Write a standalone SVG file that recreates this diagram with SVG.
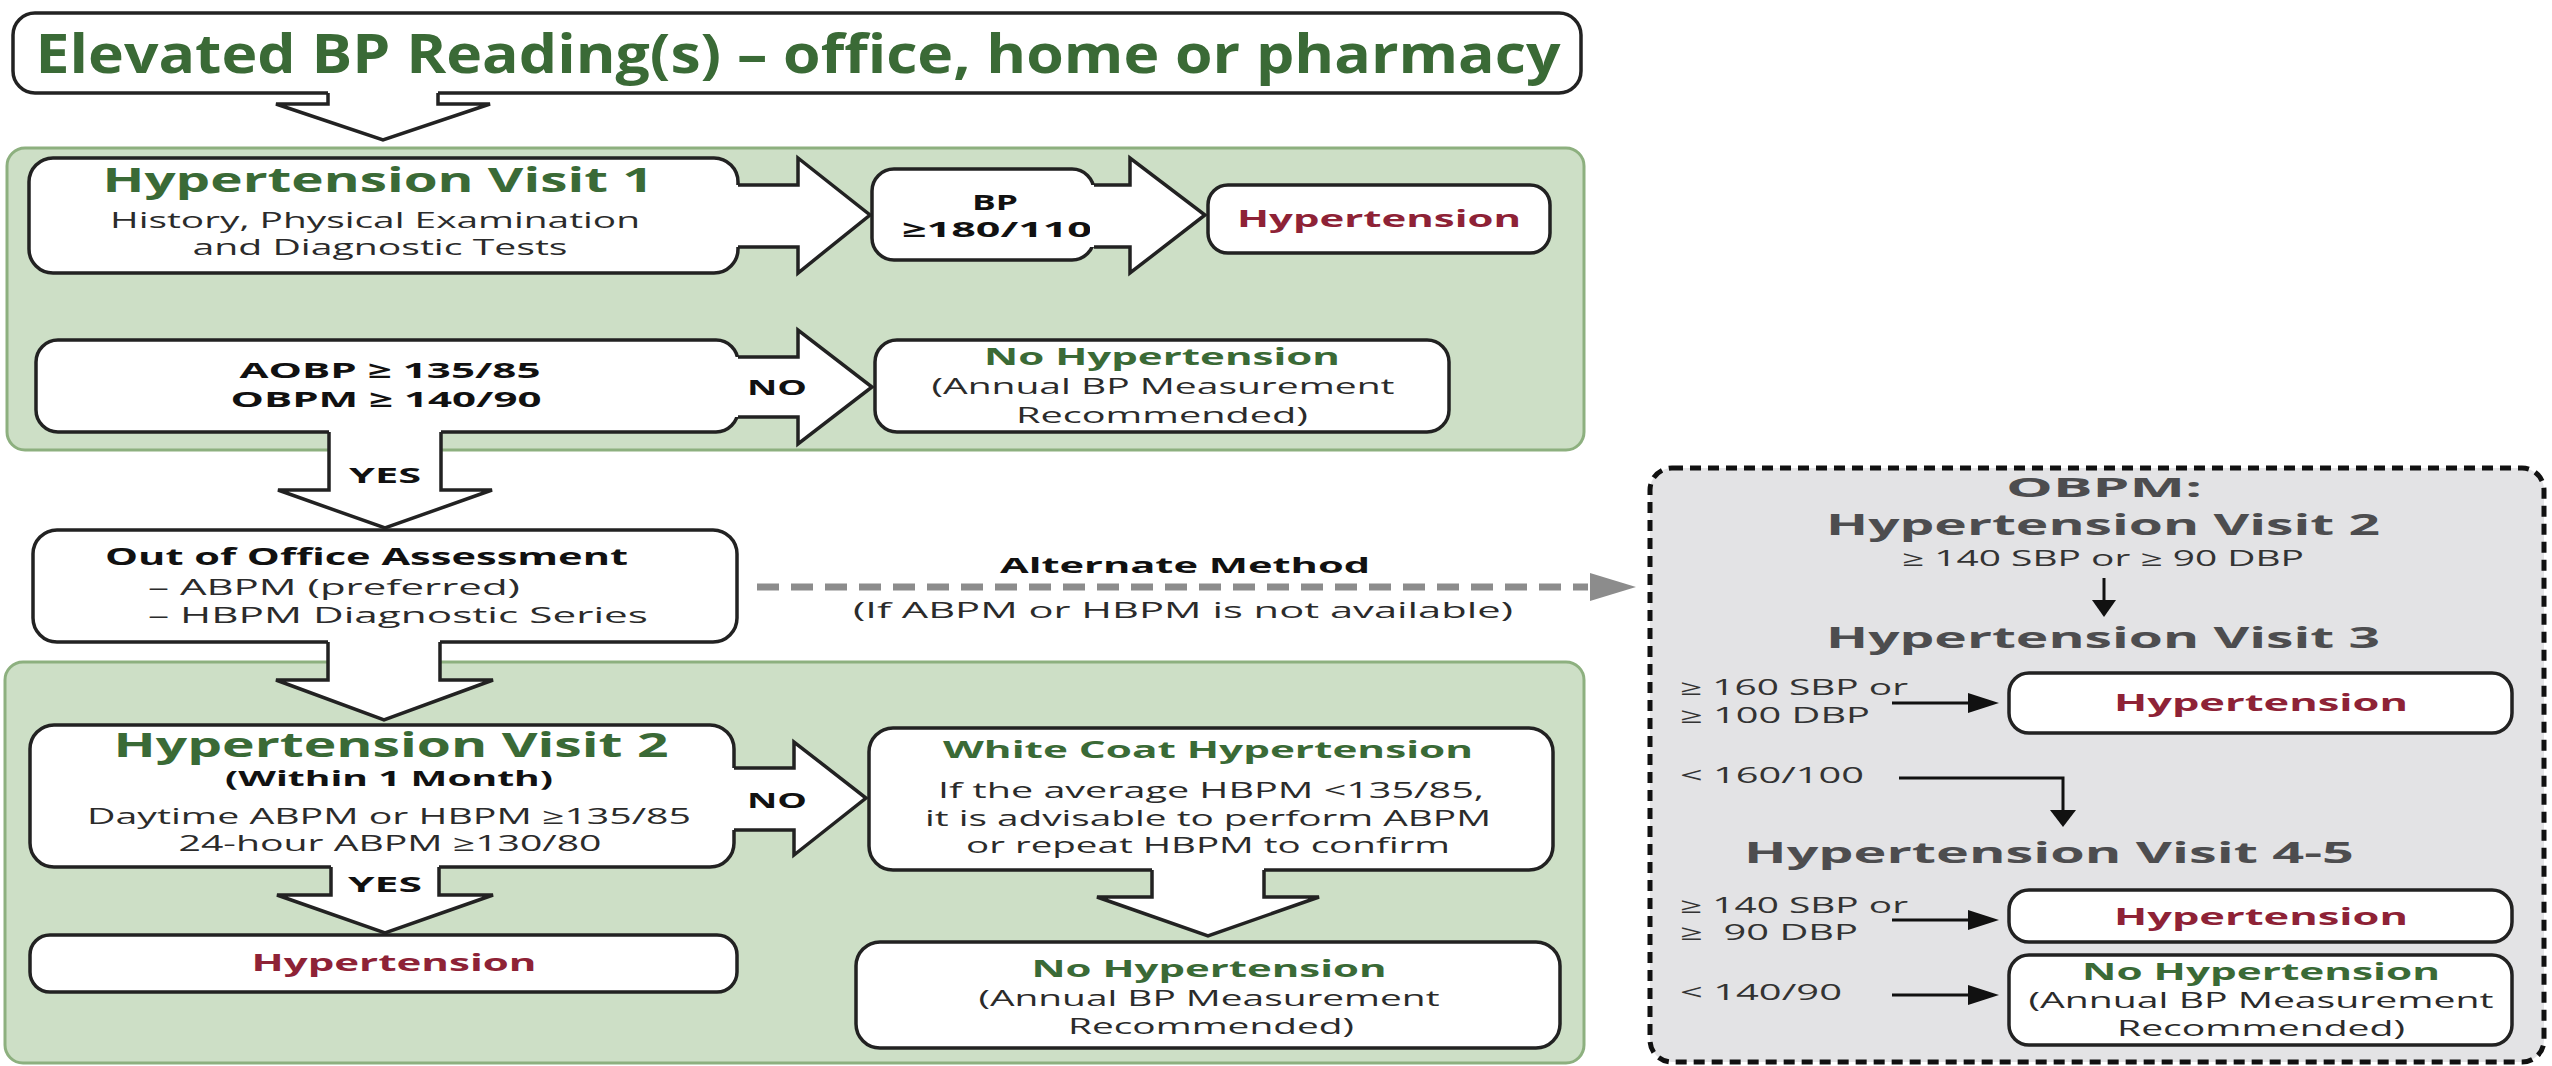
<svg xmlns="http://www.w3.org/2000/svg" width="2552" height="1066" viewBox="0 0 2552 1066">
<style>
text{font-family:"Open Sans","Noto Sans","DejaVu Sans",sans-serif;}
.box{fill:#fff;stroke:#222;stroke-width:3.5;}
.panel{fill:#cddfc6;stroke:#8db07f;stroke-width:3;}
.gray{fill:#e3e3e5;stroke:#111;stroke-width:5;stroke-dasharray:11 7;}
.af{fill:#fff;stroke:none;}
.ao{fill:none;stroke:#222;stroke-width:3.5;stroke-linejoin:miter;}
.title{font-size:53px;font-weight:700;fill:#3a6a36;}
.vt{font-size:34px;font-weight:700;fill:#3a6a36;}
.gt{font-size:28px;font-weight:700;fill:#4d4d4f;}
.body{font-size:22px;fill:#2b2b2b;}
.lb{font-size:22px;font-weight:700;fill:#111;}
.red{font-size:23px;font-weight:700;fill:#8e2236;}
.grn{font-size:23px;font-weight:700;fill:#3a6a36;}
.gs{font-size:21px;fill:#333;}
.thin{fill:none;stroke:#111;stroke-width:3;}
.head{fill:#111;}
</style>

<g id="panels">
<rect id="panel1" class="panel" x="7" y="148" width="1577" height="302" rx="18"/>
<rect id="panel2" class="panel" x="5" y="662" width="1579" height="401" rx="18"/>
</g>

<g id="node-elevated">
<rect class="box" x="13" y="13" width="1568" height="80" rx="22"/>
<text class="title" x="798" y="73" text-anchor="middle" textLength="1525" lengthAdjust="spacingAndGlyphs">Elevated BP Reading(s) – office, home or pharmacy</text>
</g>

<g id="node-visit1">
<rect class="box" x="29" y="158" width="709" height="115" rx="24"/>
<text class="vt" x="378" y="192" text-anchor="middle" textLength="551" lengthAdjust="spacingAndGlyphs">Hypertension Visit 1</text>
<text class="body" x="375" y="228" text-anchor="middle" textLength="530" lengthAdjust="spacingAndGlyphs">History, Physical Examination</text>
<text class="body" x="380" y="255" text-anchor="middle" textLength="375" lengthAdjust="spacingAndGlyphs">and Diagnostic Tests</text>
</g>

<g id="node-bp180">
<rect class="box" x="872" y="169" width="222" height="91" rx="22"/>
<text class="lb" x="995" y="210" text-anchor="middle" textLength="46" lengthAdjust="spacingAndGlyphs">BP</text>
<text class="lb" x="997" y="237" text-anchor="middle" textLength="190" lengthAdjust="spacingAndGlyphs">≥180/110</text>
</g>

<g id="node-hyp1">
<rect class="box" x="1208" y="185" width="342" height="68" rx="20"/>
<text class="red" x="1379" y="227" text-anchor="middle" textLength="284" lengthAdjust="spacingAndGlyphs">Hypertension</text>
</g>

<g id="node-aobp">
<rect class="box" x="36" y="340" width="702" height="92" rx="22"/>
<text class="lb" x="390" y="378" text-anchor="middle" textLength="301" lengthAdjust="spacingAndGlyphs">AOBP ≥ 135/85</text>
<text class="lb" x="386" y="407" text-anchor="middle" textLength="311" lengthAdjust="spacingAndGlyphs">OBPM ≥ 140/90</text>
</g>

<g id="node-nohyp1">
<rect class="box" x="875" y="340" width="574" height="92" rx="22"/>
<text class="grn" x="1162" y="365" text-anchor="middle" textLength="356" lengthAdjust="spacingAndGlyphs">No Hypertension</text>
<text class="body" x="1163" y="394" text-anchor="middle" textLength="463" lengthAdjust="spacingAndGlyphs">(Annual BP Measurement</text>
<text class="body" x="1162" y="423" text-anchor="middle" textLength="292" lengthAdjust="spacingAndGlyphs">Recommended)</text>
</g>

<g id="node-outofoffice">
<rect class="box" x="33" y="530" width="704" height="112" rx="24"/>
<text class="lb" x="105" y="565" textLength="523" lengthAdjust="spacingAndGlyphs" style="font-size:23px">Out of Office Assessment</text>
<text class="body" x="148" y="595" textLength="372" lengthAdjust="spacingAndGlyphs">– ABPM (preferred)</text>
<text class="body" x="148" y="623" textLength="500" lengthAdjust="spacingAndGlyphs">– HBPM Diagnostic Series</text>
</g>

<g id="node-visit2">
<rect class="box" x="30" y="725" width="704" height="142" rx="24"/>
<text class="vt" x="391" y="757" text-anchor="middle" textLength="555" lengthAdjust="spacingAndGlyphs">Hypertension Visit 2</text>
<text class="lb" x="389" y="786" text-anchor="middle" textLength="328" lengthAdjust="spacingAndGlyphs">(Within 1 Month)</text>
<text class="body" x="389" y="824" text-anchor="middle" textLength="604" lengthAdjust="spacingAndGlyphs">Daytime ABPM or HBPM ≥135/85</text>
<text class="body" x="390" y="851" text-anchor="middle" textLength="423" lengthAdjust="spacingAndGlyphs">24-hour ABPM ≥130/80</text>
</g>

<g id="node-hyp2">
<rect class="box" x="30" y="935" width="707" height="57" rx="20"/>
<text class="red" x="394" y="971" text-anchor="middle" textLength="285" lengthAdjust="spacingAndGlyphs">Hypertension</text>
</g>

<g id="node-whitecoat">
<rect class="box" x="869" y="728" width="684" height="142" rx="24"/>
<text class="grn" x="1208" y="758" text-anchor="middle" textLength="530" lengthAdjust="spacingAndGlyphs">White Coat Hypertension</text>
<text class="body" x="1211" y="798" text-anchor="middle" textLength="546" lengthAdjust="spacingAndGlyphs">If the average HBPM &lt;135/85,</text>
<text class="body" x="1208" y="826" text-anchor="middle" textLength="566" lengthAdjust="spacingAndGlyphs">it is advisable to perform ABPM</text>
<text class="body" x="1208" y="853" text-anchor="middle" textLength="484" lengthAdjust="spacingAndGlyphs">or repeat HBPM to confirm</text>
</g>

<g id="node-nohyp2">
<rect class="box" x="856" y="942" width="704" height="106" rx="24"/>
<text class="grn" x="1209" y="977" text-anchor="middle" textLength="355" lengthAdjust="spacingAndGlyphs">No Hypertension</text>
<text class="body" x="1209" y="1006" text-anchor="middle" textLength="461" lengthAdjust="spacingAndGlyphs">(Annual BP Measurement</text>
<text class="body" x="1211" y="1034" text-anchor="middle" textLength="286" lengthAdjust="spacingAndGlyphs">Recommended)</text>
</g>

<g id="node-obpm">
<rect class="gray" x="1650" y="468" width="894" height="594" rx="22"/>
<text class="gt" x="2104" y="497" text-anchor="middle" textLength="196" lengthAdjust="spacingAndGlyphs" style="font-size:27px">OBPM:</text>
<text class="gt" x="2103" y="535" text-anchor="middle" textLength="554" lengthAdjust="spacingAndGlyphs">Hypertension Visit 2</text>
<text class="gs" x="2103" y="566" text-anchor="middle" textLength="402" lengthAdjust="spacingAndGlyphs">≥ 140 SBP or ≥ 90 DBP</text>
<text class="gt" x="2103" y="648" text-anchor="middle" textLength="554" lengthAdjust="spacingAndGlyphs">Hypertension Visit 3</text>
<text class="gs" x="1680" y="695" textLength="228" lengthAdjust="spacingAndGlyphs">≥ 160 SBP or</text>
<text class="gs" x="1680" y="723" textLength="190" lengthAdjust="spacingAndGlyphs">≥ 100 DBP</text>
<text class="gs" x="1680" y="783" textLength="184" lengthAdjust="spacingAndGlyphs">&lt; 160/100</text>
<text class="gt" x="2049" y="863" text-anchor="middle" textLength="610" lengthAdjust="spacingAndGlyphs">Hypertension Visit 4-5</text>
<text class="gs" x="1680" y="913" textLength="228" lengthAdjust="spacingAndGlyphs">≥ 140 SBP or</text>
<text class="gs" x="1680" y="940" textLength="178" lengthAdjust="spacingAndGlyphs" xml:space="preserve">≥  90 DBP</text>
<text class="gs" x="1680" y="1000" textLength="162" lengthAdjust="spacingAndGlyphs">&lt; 140/90</text>
</g>

<g id="node-hyp3">
<rect class="box" x="2009" y="673" width="503" height="60" rx="20"/>
<text class="red" x="2261" y="711" text-anchor="middle" textLength="294" lengthAdjust="spacingAndGlyphs">Hypertension</text>
</g>

<g id="node-hyp4">
<rect class="box" x="2009" y="890" width="503" height="52" rx="20"/>
<text class="red" x="2261" y="925" text-anchor="middle" textLength="294" lengthAdjust="spacingAndGlyphs">Hypertension</text>
</g>

<g id="node-nohyp3">
<rect class="box" x="2009" y="955" width="503" height="90" rx="20"/>
<text class="grn" x="2261" y="980" text-anchor="middle" textLength="358" lengthAdjust="spacingAndGlyphs">No Hypertension</text>
<text class="body" x="2261" y="1008" text-anchor="middle" textLength="465" lengthAdjust="spacingAndGlyphs">(Annual BP Measurement</text>
<text class="body" x="2261" y="1036" text-anchor="middle" textLength="288" lengthAdjust="spacingAndGlyphs">Recommended)</text>
</g>

<g id="connectors">
<path class="af" d="M328,90 H438 V104 H490 L383,140 L276,104 H328 Z"/>
<path class="ao" d="M328,93 V104 H276 L383,140 L490,104 H438 V93"/>
<path class="af" d="M735,185 H798 V158 L870,215 L798,273 V247 H735 Z"/>
<path class="ao" d="M738,185 H798 V158 L870,215 L798,273 V247 H738"/>
<path class="af" d="M1090,185 H1130 V158 L1205,215 L1130,273 V247 H1090 Z"/>
<path class="ao" d="M1094,185 H1130 V158 L1205,215 L1130,273 V247 H1094"/>
<path class="af" d="M735,357 H798 V330 L872,387 L798,444 V417 H735 Z"/>
<path class="ao" d="M738,357 H798 V330 L872,387 L798,444 V417 H738"/>
<text class="lb" x="777" y="395" text-anchor="middle" textLength="60" lengthAdjust="spacingAndGlyphs">NO</text>
<path class="af" d="M329,429 H441 V490 H492 L385,528 L278,490 H329 Z"/>
<path class="ao" d="M329,432 V490 H278 L385,528 L492,490 H441 V432"/>
<text class="lb" x="385" y="483" text-anchor="middle" textLength="72" lengthAdjust="spacingAndGlyphs">YES</text>
<path class="af" d="M328,639 H440 V680 H493 L384,720 L276,680 H328 Z"/>
<path class="ao" d="M328,642 V680 H276 L384,720 L493,680 H440 V642"/>
<path class="af" d="M731,768 H794 V742 L866,798 L794,855 V830 H731 Z"/>
<path class="ao" d="M734,768 H794 V742 L866,798 L794,855 V830 H734"/>
<text class="lb" x="777" y="808" text-anchor="middle" textLength="60" lengthAdjust="spacingAndGlyphs">NO</text>
<path class="af" d="M1152,867 H1264 V897 H1319 L1208,936 L1097,897 H1152 Z"/>
<path class="ao" d="M1152,870 V897 H1097 L1208,936 L1319,897 H1264 V870"/>
<path class="af" d="M331,864 H439 V895 H493 L385,933 L277,895 H331 Z"/>
<path class="ao" d="M331,867 V895 H277 L385,933 L493,895 H439 V867"/>
<text class="lb" x="385" y="892" text-anchor="middle" textLength="74" lengthAdjust="spacingAndGlyphs">YES</text>
<line x1="757" y1="587" x2="1588" y2="587" stroke="#8c8c8c" stroke-width="7" stroke-dasharray="22 12"/>
<polygon points="1590,573 1636,587 1590,601" fill="#8c8c8c"/>
<text class="lb" x="1185" y="573" text-anchor="middle" textLength="370" lengthAdjust="spacingAndGlyphs">Alternate Method</text>
<text class="body" x="1183" y="618" text-anchor="middle" textLength="660" lengthAdjust="spacingAndGlyphs">(If ABPM or HBPM is not available)</text>
<line class="thin" x1="2104" y1="578" x2="2104" y2="602"/>
<polygon class="head" points="2092,600 2116,600 2104,617"/>
<line class="thin" x1="1892" y1="703" x2="1972" y2="703"/>
<polygon class="head" points="1968,693 1999,703 1968,713"/>
<path class="thin" d="M1899,778 H2063 V812"/>
<polygon class="head" points="2050,810 2076,810 2063,827"/>
<line class="thin" x1="1892" y1="920" x2="1972" y2="920"/>
<polygon class="head" points="1968,910 1999,920 1968,930"/>
<line class="thin" x1="1892" y1="995" x2="1972" y2="995"/>
<polygon class="head" points="1968,985 1999,995 1968,1005"/>
</g>
</svg>
